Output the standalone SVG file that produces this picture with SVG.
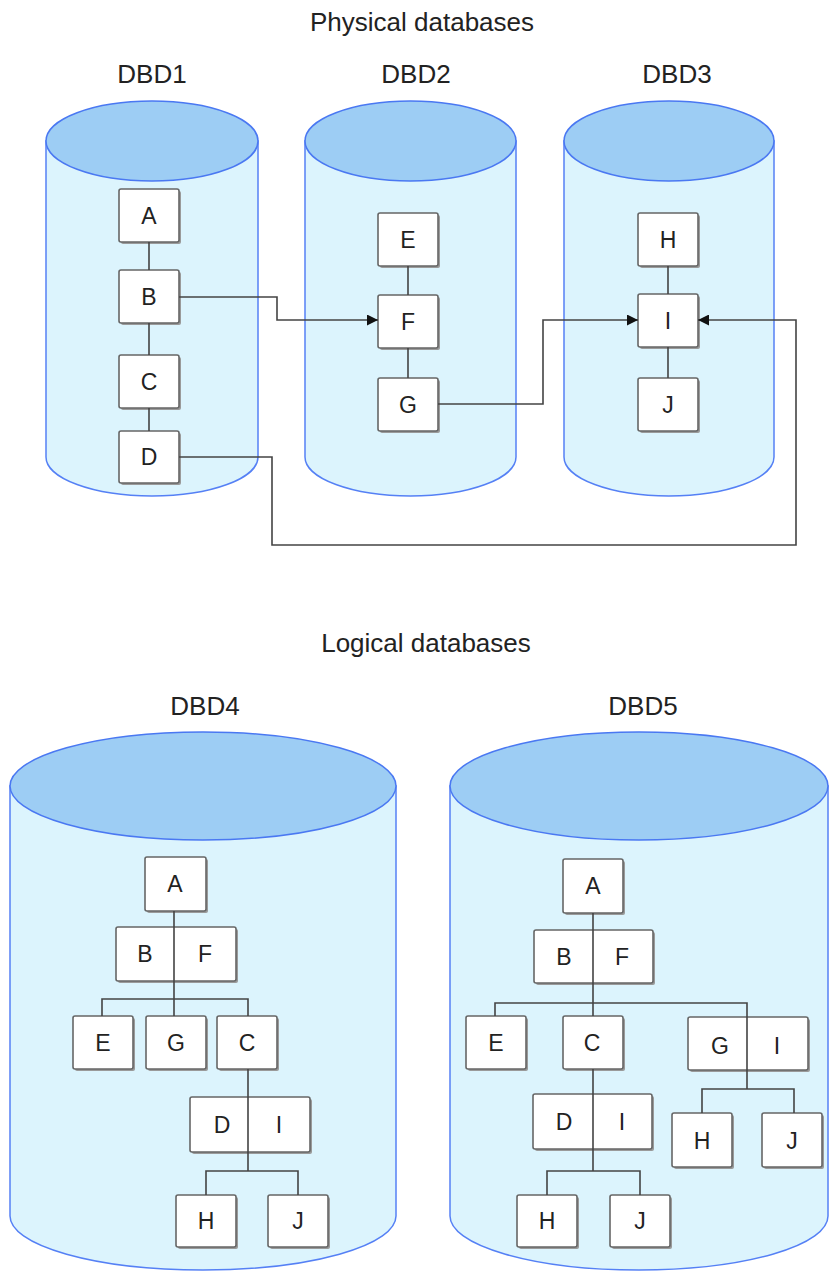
<svg xmlns="http://www.w3.org/2000/svg" width="830" height="1272" viewBox="0 0 830 1272">
<style>
.body{fill:#dcf4fd;stroke:#5580f5;stroke-width:1.5}
.top{fill:#9dcdf4;stroke:#4a78f2;stroke-width:1.5}
.box{fill:#ffffff;stroke:#666666;stroke-width:1.6}
.sh{fill:#9a9a9a}
.lbl{font-family:"Liberation Sans",Arial,sans-serif;font-size:23px;fill:#222;text-anchor:middle}
.ttl{font-family:"Liberation Sans",Arial,sans-serif;font-size:26px;fill:#222;text-anchor:middle}
.ln{fill:none;stroke:#444;stroke-width:1.6}
</style>
<defs>
<marker id="ah" viewBox="0 0 10 10" refX="10" refY="5" markerWidth="11" markerHeight="11" markerUnits="userSpaceOnUse" orient="auto">
<path d="M0,0 L10,5 L0,10 z" fill="#111"/>
</marker>
</defs>
<rect width="830" height="1272" fill="#ffffff"/>

<text class="ttl" x="422" y="31">Physical databases</text>
<text class="ttl" x="426" y="652">Logical databases</text>

<g id="DBD1">
<text class="ttl" x="152" y="83">DBD1</text>
<path class="body" d="M46,141 V457 A106,39 0 0 0 258,457 V141 Z"/>
<ellipse class="top" cx="152" cy="141" rx="106" ry="40"/>
</g>
<g id="DBD2">
<text class="ttl" x="416" y="83">DBD2</text>
<path class="body" d="M305,141 V457 A105.5,39 0 0 0 516,457 V141 Z"/>
<ellipse class="top" cx="410.5" cy="141" rx="105.5" ry="40"/>
</g>
<g id="DBD3">
<text class="ttl" x="677" y="83">DBD3</text>
<path class="body" d="M564,141 V457 A105,39 0 0 0 774,457 V141 Z"/>
<ellipse class="top" cx="669" cy="141" rx="105" ry="40"/>
</g>
<g id="DBD4">
<text class="ttl" x="205" y="715">DBD4</text>
<path class="body" d="M10,786 V1216 A193,54 0 0 0 396,1216 V786 Z"/>
<ellipse class="top" cx="203" cy="786" rx="193" ry="54"/>
</g>
<g id="DBD5">
<text class="ttl" x="643" y="715">DBD5</text>
<path class="body" d="M450,786 V1216 A189,54 0 0 0 828,1216 V786 Z"/>
<ellipse class="top" cx="639" cy="786" rx="189" ry="54"/>
</g>

<!-- Physical nodes -->
<g id="p1A"><rect class="sh" x="121" y="191" width="60" height="53" rx="2"/><rect class="box" x="119" y="189" width="60" height="53" rx="2"/><text class="lbl" x="149" y="224">A</text></g>
<g id="p1B"><rect class="sh" x="121" y="272" width="60" height="53" rx="2"/><rect class="box" x="119" y="270" width="60" height="53" rx="2"/><text class="lbl" x="149" y="305">B</text></g>
<g id="p1C"><rect class="sh" x="121" y="357" width="60" height="53" rx="2"/><rect class="box" x="119" y="355" width="60" height="53" rx="2"/><text class="lbl" x="149" y="390">C</text></g>
<g id="p1D"><rect class="sh" x="121" y="433" width="60" height="52" rx="2"/><rect class="box" x="119" y="431" width="60" height="52" rx="2"/><text class="lbl" x="149" y="465">D</text></g>

<g id="p2E"><rect class="sh" x="380" y="215" width="60" height="53" rx="2"/><rect class="box" x="378" y="213" width="60" height="53" rx="2"/><text class="lbl" x="408" y="248">E</text></g>
<g id="p2F"><rect class="sh" x="380" y="297" width="60" height="53" rx="2"/><rect class="box" x="378" y="295" width="60" height="53" rx="2"/><text class="lbl" x="408" y="330">F</text></g>
<g id="p2G"><rect class="sh" x="380" y="380" width="60" height="53" rx="2"/><rect class="box" x="378" y="378" width="60" height="53" rx="2"/><text class="lbl" x="408" y="413">G</text></g>

<g id="p3H"><rect class="sh" x="640" y="215" width="60" height="53" rx="2"/><rect class="box" x="638" y="213" width="60" height="53" rx="2"/><text class="lbl" x="668" y="248">H</text></g>
<g id="p3I"><rect class="sh" x="640" y="296" width="60" height="53" rx="2"/><rect class="box" x="638" y="294" width="60" height="53" rx="2"/><text class="lbl" x="668" y="329">I</text></g>
<g id="p3J"><rect class="sh" x="640" y="380" width="60" height="53" rx="2"/><rect class="box" x="638" y="378" width="60" height="53" rx="2"/><text class="lbl" x="668" y="413">J</text></g>

<!-- Logical DBD4 nodes -->
<g id="l4A"><rect class="sh" x="147" y="859" width="61" height="54" rx="2"/><rect class="box" x="145" y="857" width="61" height="54" rx="2"/><text class="lbl" x="175" y="892">A</text></g>
<g id="l4BF"><rect class="sh" x="118" y="929" width="120" height="54" rx="2"/><rect class="box" x="116" y="927" width="120" height="54" rx="2"/><text class="lbl" x="145" y="962">B</text><text class="lbl" x="205" y="962">F</text></g>
<g id="l4E"><rect class="sh" x="75" y="1018" width="60" height="53" rx="2"/><rect class="box" x="73" y="1016" width="60" height="53" rx="2"/><text class="lbl" x="103" y="1051">E</text></g>
<g id="l4G"><rect class="sh" x="148" y="1018" width="60" height="53" rx="2"/><rect class="box" x="146" y="1016" width="60" height="53" rx="2"/><text class="lbl" x="176" y="1051">G</text></g>
<g id="l4C"><rect class="sh" x="219" y="1018" width="60" height="53" rx="2"/><rect class="box" x="217" y="1016" width="60" height="53" rx="2"/><text class="lbl" x="247" y="1051">C</text></g>
<g id="l4DI"><rect class="sh" x="192" y="1099" width="120" height="55" rx="2"/><rect class="box" x="190" y="1097" width="120" height="55" rx="2"/><text class="lbl" x="222" y="1133">D</text><text class="lbl" x="279" y="1133">I</text></g>
<g id="l4H"><rect class="sh" x="178" y="1197" width="60" height="52" rx="2"/><rect class="box" x="176" y="1195" width="60" height="52" rx="2"/><text class="lbl" x="206" y="1229">H</text></g>
<g id="l4J"><rect class="sh" x="270" y="1197" width="60" height="52" rx="2"/><rect class="box" x="268" y="1195" width="60" height="52" rx="2"/><text class="lbl" x="298" y="1229">J</text></g>

<!-- Logical DBD5 nodes -->
<g id="l5A"><rect class="sh" x="565" y="861" width="60" height="54" rx="2"/><rect class="box" x="563" y="859" width="60" height="54" rx="2"/><text class="lbl" x="593" y="894">A</text></g>
<g id="l5BF"><rect class="sh" x="536" y="932" width="119" height="53" rx="2"/><rect class="box" x="534" y="930" width="119" height="53" rx="2"/><text class="lbl" x="564" y="965">B</text><text class="lbl" x="622" y="965">F</text></g>
<g id="l5E"><rect class="sh" x="468" y="1018" width="60" height="53" rx="2"/><rect class="box" x="466" y="1016" width="60" height="53" rx="2"/><text class="lbl" x="496" y="1051">E</text></g>
<g id="l5C"><rect class="sh" x="565" y="1018" width="60" height="53" rx="2"/><rect class="box" x="563" y="1016" width="60" height="53" rx="2"/><text class="lbl" x="592" y="1051">C</text></g>
<g id="l5GI"><rect class="sh" x="690" y="1019" width="120" height="53" rx="2"/><rect class="box" x="688" y="1017" width="120" height="53" rx="2"/><text class="lbl" x="720" y="1054">G</text><text class="lbl" x="777" y="1054">I</text></g>
<g id="l5DI"><rect class="sh" x="535" y="1096" width="119" height="55" rx="2"/><rect class="box" x="533" y="1094" width="119" height="55" rx="2"/><text class="lbl" x="564" y="1130">D</text><text class="lbl" x="622" y="1130">I</text></g>
<g id="l5H2"><rect class="sh" x="674" y="1115" width="60" height="54" rx="2"/><rect class="box" x="672" y="1113" width="60" height="54" rx="2"/><text class="lbl" x="702" y="1149">H</text></g>
<g id="l5J2"><rect class="sh" x="764" y="1115" width="60" height="54" rx="2"/><rect class="box" x="762" y="1113" width="60" height="54" rx="2"/><text class="lbl" x="792" y="1149">J</text></g>
<g id="l5H"><rect class="sh" x="519" y="1197" width="60" height="52" rx="2"/><rect class="box" x="517" y="1195" width="60" height="52" rx="2"/><text class="lbl" x="547" y="1229">H</text></g>
<g id="l5J"><rect class="sh" x="612" y="1197" width="60" height="52" rx="2"/><rect class="box" x="610" y="1195" width="60" height="52" rx="2"/><text class="lbl" x="640" y="1229">J</text></g>

<g id="connectors">
<path class="ln" d="M149,242 V270 M149,323 V355 M149,408 V431"/>
<path class="ln" d="M408,266 V295 M408,348 V378"/>
<path class="ln" d="M668,266 V294 M668,347 V378"/>
<path class="ln" d="M179,297 H277 V320 H378" marker-end="url(#ah)"/>
<path class="ln" d="M438,404 H543 V320 H638" marker-end="url(#ah)"/>
<path class="ln" d="M179,457 H272 V545 H796 V320 H698" marker-end="url(#ah)"/>

<path class="ln" d="M174,911 V999 M102,1016 V999 H248 V1016 M174,999 V1016"/>
<path class="ln" d="M248,1069 V1171 M206,1195 V1171 H298 V1195"/>

<path class="ln" d="M593,913 V1016 M495,1016 V1003 H747 V1089 M702,1113 V1089 H794 V1113"/>
<path class="ln" d="M593,1069 V1171 M547,1195 V1171 H640 V1195"/>
</g>
</svg>
